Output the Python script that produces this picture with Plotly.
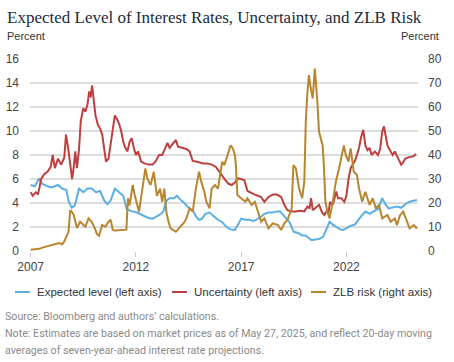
import plotly.graph_objects as go

# ---------------- data ----------------
tick_years = [2007, 2012, 2017, 2022]

exp_years = [2007.0, 2007.2, 2007.4, 2007.55, 2007.8, 2008.0, 2008.3, 2008.5, 2008.7, 2008.8, 2008.95, 2009.1,
             2009.3, 2009.5, 2009.7, 2009.9, 2010.1, 2010.3, 2010.5, 2010.65, 2010.8, 2011.0, 2011.2, 2011.4,
             2011.56, 2011.8, 2012.0, 2012.2, 2012.4, 2012.6, 2012.8, 2013.0, 2013.2, 2013.3, 2013.45, 2013.6,
             2013.8, 2013.95, 2014.1, 2014.3, 2014.5, 2014.7, 2014.85, 2015.0, 2015.15, 2015.3, 2015.5, 2015.7,
             2015.9, 2016.1, 2016.3, 2016.5, 2016.7, 2016.85, 2017.0, 2017.2, 2017.4, 2017.6, 2017.8, 2017.95,
             2018.1, 2018.3, 2018.5, 2018.7, 2018.85, 2019.0, 2019.15, 2019.3, 2019.5, 2019.7, 2019.9, 2020.05,
             2020.2, 2020.35, 2020.5, 2020.7, 2020.9, 2021.0, 2021.2, 2021.35, 2021.5, 2021.7, 2021.85, 2022.0,
             2022.2, 2022.4, 2022.6, 2022.75, 2022.9, 2023.1, 2023.3, 2023.5, 2023.7, 2023.85, 2024.0, 2024.2,
             2024.4, 2024.6, 2024.8, 2025.0, 2025.2, 2025.35]
exp_vals = [5.5, 5.4, 6.05, 5.6, 5.4, 5.3, 5.5, 5.2, 5.1, 4.2, 3.6, 3.8,
            5.2, 4.9, 5.2, 5.2, 4.9, 5.0, 4.2, 3.9, 4.2, 5.2, 4.9, 4.6,
            3.5, 3.3, 3.25, 3.1, 2.9, 2.75, 2.7, 2.9, 3.1, 3.3, 4.2, 4.4,
            4.4, 4.6, 4.3, 4.0, 3.6, 3.4, 2.9, 2.6, 2.7, 3.1, 3.2, 2.9,
            2.6, 2.4, 2.0, 1.8, 1.75, 2.2, 2.7, 2.6, 2.6, 2.5, 2.7, 2.85,
            3.1, 3.2, 3.2, 3.3, 3.3, 3.0, 2.7, 2.4, 1.6, 1.5, 1.3, 1.3,
            1.1, 0.9, 0.95, 1.0, 1.2, 1.6, 2.45, 2.2, 2.0, 1.8, 1.75, 1.9,
            2.1, 2.2, 2.7, 3.0, 3.3, 3.1, 3.3, 3.5, 4.4, 3.9, 3.55, 3.6,
            3.7, 3.6, 3.9, 4.1, 4.2, 4.25]

unc_years = [2007.0, 2007.1, 2007.25, 2007.35, 2007.5, 2007.65, 2007.8, 2007.95, 2008.05, 2008.15, 2008.3,
             2008.45, 2008.6, 2008.68, 2008.78, 2008.88, 2008.97, 2009.05, 2009.12, 2009.2, 2009.3, 2009.38,
             2009.5, 2009.6, 2009.7, 2009.78, 2009.85, 2009.92, 2010.0, 2010.08, 2010.2, 2010.3, 2010.4,
             2010.5, 2010.58, 2010.7, 2010.8, 2010.9, 2011.0, 2011.1, 2011.2, 2011.3, 2011.4, 2011.5, 2011.6,
             2011.7, 2011.8, 2011.9, 2012.0, 2012.1, 2012.25, 2012.4, 2012.6, 2012.8, 2012.95, 2013.1,
             2013.25, 2013.4, 2013.5, 2013.6, 2013.75, 2013.9, 2014.0, 2014.2, 2014.4, 2014.55, 2014.7,
             2014.85, 2015.0, 2015.2, 2015.4, 2015.6, 2015.8, 2015.95, 2016.1, 2016.25, 2016.4, 2016.55,
             2016.7, 2016.85, 2017.0, 2017.15, 2017.3, 2017.5, 2017.65, 2017.8, 2017.95, 2018.1, 2018.3,
             2018.5, 2018.7, 2018.9, 2019.05, 2019.2, 2019.4, 2019.6, 2019.8, 2020.0, 2020.15, 2020.25,
             2020.32, 2020.4, 2020.55, 2020.7, 2020.85, 2020.95, 2021.05, 2021.15, 2021.22, 2021.35, 2021.45,
             2021.52, 2021.6, 2021.75, 2021.9, 2022.0, 2022.1, 2022.2, 2022.3, 2022.4, 2022.5, 2022.6,
             2022.7, 2022.8, 2022.9, 2023.0, 2023.1, 2023.2, 2023.35, 2023.5, 2023.6, 2023.7, 2023.78,
             2023.85, 2023.95, 2024.1, 2024.2, 2024.3, 2024.45, 2024.6, 2024.7, 2024.8, 2024.95, 2025.1,
             2025.2, 2025.3]
unc_vals = [4.9, 4.6, 4.9, 4.7, 6.0, 6.4, 6.6, 7.0, 8.0, 6.9, 7.7,
            7.2, 7.8, 9.7, 8.6, 7.0, 6.0, 7.0, 8.3, 6.9, 8.5, 10.8,
            11.9, 11.6, 12.2, 13.3, 12.8, 13.8, 12.5, 11.3, 10.5, 10.2, 9.7,
            8.5, 7.45, 7.7, 9.0, 10.2, 11.3, 11.0, 10.6, 10.0, 9.1, 8.6, 8.3,
            9.1, 9.4, 8.6, 8.0, 8.3, 7.45, 7.3, 7.2, 7.2, 7.5, 8.0,
            8.0, 8.6, 9.0, 8.6, 8.9, 9.25, 8.7, 8.6, 8.5, 8.3, 7.5,
            7.45, 7.4, 7.3, 7.3, 7.2, 7.0, 6.6, 6.3, 5.9, 5.6, 5.5,
            5.7, 6.05, 6.0, 5.9, 5.0, 4.8, 4.7, 4.6, 4.5, 4.1, 4.5,
            4.7, 4.7, 4.5, 3.85, 3.4, 3.3, 3.3, 3.35, 3.3, 3.7, 3.55,
            4.4, 3.4, 3.6, 3.85, 3.2, 3.0, 3.3, 3.2, 4.1, 3.85, 4.5,
            4.95, 4.4, 4.4, 4.1, 4.6, 6.0, 6.9, 7.2, 7.5, 8.0, 8.6,
            9.5, 10.1, 8.8, 8.4, 8.6, 8.0, 8.3, 8.0, 8.5, 9.95, 10.4,
            9.6, 8.8, 8.3, 8.0, 8.3, 7.8, 7.2, 7.4, 7.7, 7.8, 7.85,
            7.9, 8.1]

zlb_years = [2007.0, 2007.2, 2007.4, 2007.6, 2007.8, 2008.0, 2008.2, 2008.35, 2008.5, 2008.6, 2008.7, 2008.8,
             2008.88, 2008.95, 2009.05, 2009.2, 2009.35, 2009.5, 2009.6, 2009.75, 2009.9, 2010.05, 2010.15,
             2010.25, 2010.4, 2010.55, 2010.7, 2010.8, 2010.9, 2011.0, 2011.2, 2011.4, 2011.55, 2011.62,
             2011.7, 2011.85, 2011.95, 2012.15, 2012.3, 2012.45, 2012.55, 2012.7, 2012.85, 2013.0, 2013.15,
             2013.25, 2013.35, 2013.45, 2013.55, 2013.65, 2013.9, 2014.1, 2014.3, 2014.4, 2014.55, 2014.7,
             2014.85, 2015.0, 2015.1, 2015.25, 2015.35, 2015.5, 2015.6, 2015.75, 2015.9, 2016.0, 2016.1,
             2016.2, 2016.35, 2016.5, 2016.6, 2016.7, 2016.75, 2016.82, 2017.0, 2017.2, 2017.3, 2017.5,
             2017.65, 2017.8, 2017.95, 2018.1, 2018.3, 2018.5, 2018.75, 2018.9, 2019.05, 2019.2, 2019.4,
             2019.48, 2019.6, 2019.75, 2019.9, 2020.0, 2020.07, 2020.15, 2020.22, 2020.3, 2020.4, 2020.5,
             2020.55, 2020.62, 2020.7, 2020.87, 2020.93, 2021.0, 2021.1, 2021.2, 2021.35, 2021.5, 2021.65,
             2021.8, 2021.88, 2021.97, 2022.1, 2022.2, 2022.35, 2022.5, 2022.6, 2022.75, 2022.9, 2023.1,
             2023.25, 2023.4, 2023.55, 2023.7, 2023.95, 2024.1, 2024.3, 2024.4, 2024.55, 2024.7, 2024.9,
             2025.0, 2025.2, 2025.35]
zlb_vals = [0.5, 0.6, 0.9, 1.5, 2.0, 2.5, 3.0, 3.3, 2.8, 4.0, 6.0, 8.0,
            17.0, 16.4, 15.0, 9.6, 12.2, 11.0, 10.1, 13.6, 12.2, 9.4, 7.0,
            6.3, 10.8, 10.1, 12.2, 13.0, 8.8, 8.5, 8.6, 8.6, 8.9, 22.0,
            19.0, 27.5, 23.0, 16.4, 26.0, 34.4, 30.0, 27.5, 33.0, 23.0, 26.0,
            20.5, 26.0, 16.0, 12.2, 9.4, 8.0, 10.0, 12.0, 13.6, 17.8, 16.4,
            26.0, 33.0, 29.0, 24.7, 20.5, 17.8, 26.0, 27.5, 26.0, 31.7, 37.2,
            35.8, 40.0, 44.0, 42.8, 40.0, 35.8, 23.3, 22.0, 20.5, 22.0, 19.2,
            20.5, 16.4, 12.2, 13.6, 9.4, 11.5, 10.8, 8.75, 11.5, 12.9, 17.8,
            35.8, 34.4, 26.0, 22.0, 29.0, 54.0, 66.4, 73.3, 68.0, 63.6, 76.0,
            67.8, 62.0, 49.7, 44.0, 35.8, 20.5, 16.4, 13.6, 20.5, 29.0, 34.4,
            40.0, 44.0, 40.0, 37.2, 42.8, 33.0, 31.7, 26.0, 20.5, 24.7, 19.2,
            22.0, 17.8, 19.2, 13.6, 15.0, 12.2, 13.6, 10.8, 15.0, 16.4, 12.2,
            9.4, 10.8, 9.4]

series_names = ["Expected level (left axis)", "Uncertainty (left axis)", "ZLB risk (right axis)"]
series_colors = ["#5AAEE2", "#BE3F3F", "#B8862E"]

title_text = "Expected Level of Interest Rates, Uncertainty, and ZLB Risk"
source_text = "Source: Bloomberg and authors\u2019 calculations."
note_lines = ["Note: Estimates are based on market prices as of May 27, 2025, and reflect 20-day moving",
              "averages of seven-year-ahead interest rate projections."]
foot_widths = [214, 427, 259]  # rendered widths of the footnote lines in the reference (px)

# ---------------- figure ----------------
W, H = 454, 362
L, R, T, B = 30, 36, 59, 111
pw, ph = W - L - R, H - T - B

def px(x):
    return (x - L) / pw

def py(y):
    return (H - B - y) / ph

fig = go.Figure()
fig.add_trace(go.Scatter(x=exp_years, y=exp_vals, name=series_names[0], mode="lines",
                         line=dict(color=series_colors[0], width=2), showlegend=False))
fig.add_trace(go.Scatter(x=unc_years, y=unc_vals, name=series_names[1], mode="lines",
                         line=dict(color=series_colors[1], width=2), showlegend=False))
fig.add_trace(go.Scatter(x=zlb_years, y=zlb_vals, name=series_names[2], mode="lines", yaxis="y2",
                         line=dict(color=series_colors[2], width=2), showlegend=False))

tickfont = dict(family="Liberation Sans, Arial, sans-serif", size=12, color="#444444")

fig.update_layout(
    width=W, height=H,
    margin=dict(l=L, r=R, t=T, b=B, pad=0, autoexpand=False),
    paper_bgcolor="white", plot_bgcolor="white",
    showlegend=False,
    xaxis=dict(range=[2006.97, 2025.4], tickvals=tick_years, ticktext=[str(t) for t in tick_years],
               showgrid=False, zeroline=False, showline=False, automargin=False,
               ticks="outside", ticklen=5, tickcolor="#cccccc", tickwidth=1,
               tickfont=tickfont),
    yaxis=dict(range=[0, 16], dtick=2, showgrid=True, gridcolor="#dddddd", gridwidth=1.5,
               zeroline=False, showline=False, ticks="", tickfont=tickfont,
               ticklabelstandoff=10, automargin=False),
    yaxis2=dict(range=[0, 80], dtick=10, overlaying="y", side="right", showgrid=False,
                zeroline=False, showline=False, ticks="", tickfont=tickfont,
                ticklabelstandoff=9, automargin=False),
)

ann = []
ann.append(dict(text=title_text, x=px(5), y=py(18), xref="paper", yref="paper", xanchor="left",
                yanchor="middle", showarrow=False,
                font=dict(family="Liberation Serif, Georgia, serif", size=17, color="#1d2b3a")))
ann.append(dict(text="Percent", x=px(5), y=py(36), xref="paper", yref="paper", xanchor="left",
                yanchor="middle", showarrow=False,
                font=dict(family="Liberation Sans, Arial, sans-serif", size=11, color="#333333")))
ann.append(dict(text="Percent", x=px(441), y=py(36), xref="paper", yref="paper", xanchor="right",
                yanchor="middle", showarrow=False,
                font=dict(family="Liberation Sans, Arial, sans-serif", size=11, color="#333333")))

# legend (custom)
leg_y = 292
leg_x = [15, 172, 311]
shapes = []
for lx, name, col in zip(leg_x, series_names, series_colors):
    shapes.append(dict(type="line", xref="paper", yref="paper", x0=px(lx), x1=px(lx + 15),
                       y0=py(leg_y), y1=py(leg_y), line=dict(color=col, width=2)))
    ann.append(dict(text=name, x=px(lx + 20), y=py(leg_y), xref="paper", yref="paper",
                    xanchor="left", yanchor="middle", showarrow=False,
                    font=dict(family="Liberation Sans, Arial, sans-serif", size=11.5, color="#333333")))

foot_font = dict(family="Roboto, sans-serif", size=11, color="#8a8a8a")
for i, t in enumerate([source_text] + note_lines):
    ann.append(dict(text=t, x=px(3), y=py(316 + i * 17), xref="paper", yref="paper",
                    xanchor="left", yanchor="middle", showarrow=False, font=foot_font))

fig.update_layout(annotations=ann, shapes=shapes)

# page tweaks: no default body margin; condense footnote text to the reference widths
foot_map = {t: w for t, w in zip([source_text] + note_lines, foot_widths)}
js_pairs = ",".join('["%s",%d]' % (t.replace('"', '\\"'), w) for t, w in foot_map.items())
post = """
document.body.style.margin='0';
var fw = new Map([%s]);
document.querySelectorAll('text.annotation-text').forEach(function(t){
  var w = fw.get(t.textContent);
  if(!w) return;
  var nat = t.getComputedTextLength();
  var x = parseFloat(t.getAttribute('x')) || 0;
  var anc = t.getAttribute('text-anchor') || 'start';
  var left = anc === 'middle' ? x - nat/2 : (anc === 'end' ? x - nat : x);
  t.setAttribute('text-anchor','start');
  t.setAttribute('x', left);
  t.setAttribute('textLength', w);
  t.setAttribute('lengthAdjust','spacingAndGlyphs');
});
""" % js_pairs

fig.write_html("out.html", post_script=post, config={"displayModeBar": False})
